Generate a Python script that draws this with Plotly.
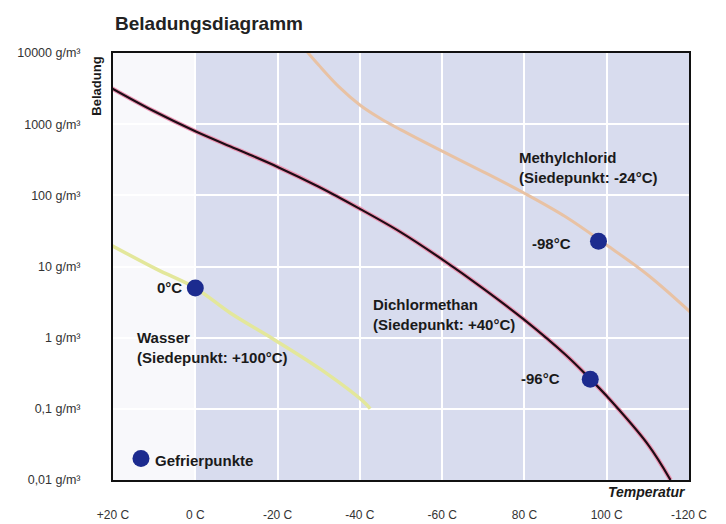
import plotly.graph_objects as go

# ---------------- data ----------------
x_tick_vals = [20, 0, -20, -40, -60, -80, -100, -120]
x_tick_text = ["+20 C", "0 C", "-20 C", "-40 C", "-60 C", "80 C", "100 C", "-120 C"]
y_tick_vals = [0.01, 0.1, 1, 10, 100, 1000, 10000]
y_tick_text = ["0,01 g/m³", "0,1 g/m³", "1 g/m³", "10 g/m³", "100 g/m³", "1000 g/m³", "10000 g/m³"]

# Wasser (water)
water_T = [20.5, 9.3, 0, -8.6, -19.3, -30.6, -41.3, -42.5]
water_val = [20, 9.1, 5.0, 2.2, 0.93, 0.355, 0.12, 0.10]

# Methylchlorid
methyl_T = [-27, -30, -35, -40, -45, -50, -60, -70, -80, -90, -100, -110, -120.5]
methyl_val = [10700, 6760, 3310, 1860, 1200, 830, 417, 214, 107, 50, 20, 7.6, 2.24]

# Dichlormethan
dcm_T = [20.5, 10, 0, -10, -20, -30, -40, -50, -60, -70, -80, -90, -96, -100, -110, -115.5]
dcm_val = [3236, 1514, 794, 447, 251, 132, 64.6, 30.2, 12.6, 4.9, 1.78, 0.575, 0.263, 0.151, 0.0316, 0.01]

# Gefrierpunkte (freezing points)
freeze_T = [0, -98, -96]
freeze_val = [5.0, 22.6, 0.26]
freeze_labels = ["0°C", "-98°C", "-96°C"]

# legend key marker
key_T = [13.2]
key_val = [0.02]

FONT = "Liberation Sans, Arial, sans-serif"
MARK = "#1c2b8f"
TXT = "#1a1a1a"

fig = go.Figure()

fig.add_trace(go.Scatter(x=water_T, y=water_val, mode="lines",
                         line=dict(color="#e3e79b", width=3.5, shape="spline", smoothing=1.0),
                         showlegend=False, hoverinfo="skip"))
fig.add_trace(go.Scatter(x=methyl_T, y=methyl_val, mode="lines",
                         line=dict(color="#e8c2a4", width=3, shape="spline", smoothing=1.0),
                         showlegend=False, hoverinfo="skip"))
fig.add_trace(go.Scatter(x=dcm_T, y=dcm_val, mode="lines",
                         line=dict(color="#ec94b2", width=4.5, shape="spline", smoothing=1.0),
                         showlegend=False, hoverinfo="skip"))
fig.add_trace(go.Scatter(x=dcm_T, y=dcm_val, mode="lines",
                         line=dict(color="#1e0c16", width=2.2, shape="spline", smoothing=1.0),
                         showlegend=False, hoverinfo="skip"))
fig.add_trace(go.Scatter(x=freeze_T, y=freeze_val, mode="markers",
                         marker=dict(color=MARK, size=17, line=dict(width=0)),
                         showlegend=False, hoverinfo="skip"))
fig.add_trace(go.Scatter(x=key_T, y=key_val, mode="markers",
                         marker=dict(color=MARK, size=17, line=dict(width=0)),
                         showlegend=False, hoverinfo="skip"))

# white-ish strip for temperatures above 0 C
fig.add_shape(type="rect", xref="x", yref="paper", x0=x_tick_vals[0], x1=0, y0=0, y1=1,
              fillcolor="#f8f8fb", line=dict(width=0), layer="below")

ann_font = dict(family=FONT, size=15, color=TXT)
annotations = [
    # freezing point labels
    dict(x=2.8, y=0.70, text="<b>" + freeze_labels[0] + "</b>", xanchor="right", yanchor="middle"),
    dict(x=-91.8, y=1.33, text="<b>" + freeze_labels[1] + "</b>", xanchor="right", yanchor="middle"),
    dict(x=-89.1, y=-0.58, text="<b>" + freeze_labels[2] + "</b>", xanchor="right", yanchor="middle"),
    # curve labels
    dict(x=-78.2, y=2.39, text="<b>Methylchlorid<br>(Siedepunkt: -24°C)</b>",
         xanchor="left", yanchor="middle", align="left"),
    dict(x=-42.7, y=0.32, text="<b>Dichlormethan<br>(Siedepunkt: +40°C)</b>",
         xanchor="left", yanchor="middle", align="left"),
    dict(x=14.65, y=-0.14, text="<b>Wasser<br>(Siedepunkt: +100°C)</b>",
         xanchor="left", yanchor="middle", align="left"),
    dict(x=10.3, y=-1.72, text="<b>Gefrierpunkte</b>", xanchor="left", yanchor="middle"),
]
for a in annotations:
    a.update(xref="x", yref="y", showarrow=False, font=ann_font)

annotations.append(dict(xref="paper", yref="paper", x=-0.028, y=0.997, xanchor="center", yanchor="top",
                        text="<b>Beladung</b>", textangle=-90, showarrow=False,
                        font=dict(family=FONT, size=13, color=TXT)))
annotations.append(dict(xref="paper", yref="paper", x=0.998, y=0, xanchor="right", yanchor="top",
                        yshift=-2, text="<b><i>Temperatur</i></b>", showarrow=False,
                        font=dict(family=FONT, size=14, color=TXT)))

fig.update_layout(
    width=726, height=524,
    margin=dict(l=113, r=37, t=53, b=44),
    paper_bgcolor="white",
    plot_bgcolor="#d8dcee",
    title=dict(text="<b>Beladungsdiagramm</b>", x=115 / 726, xanchor="left",
               y=1 - 23 / 524, yanchor="middle",
               font=dict(family=FONT, size=19, color="#222")),
    annotations=annotations,
    showlegend=False,
)

fig.update_xaxes(range=[20, -120], tickvals=x_tick_vals, ticktext=x_tick_text,
                 showgrid=True, gridcolor="white", gridwidth=1.5, zeroline=False,
                 showline=True, linecolor="#111", linewidth=2, mirror=True,
                 ticks="", ticklabelstandoff=23, automargin=False,
                 tickfont=dict(family=FONT, size=12, color="#333"))
fig.update_yaxes(type="log", range=[-2, 4], tickvals=y_tick_vals, ticktext=y_tick_text,
                 showgrid=True, gridcolor="white", gridwidth=1.5, zeroline=False,
                 showline=True, linecolor="#111", linewidth=2, mirror=True,
                 ticks="", ticklabelstandoff=28, automargin=False,
                 tickfont=dict(family=FONT, size=12.5, color="#333"))

fig.write_html("out.html")
